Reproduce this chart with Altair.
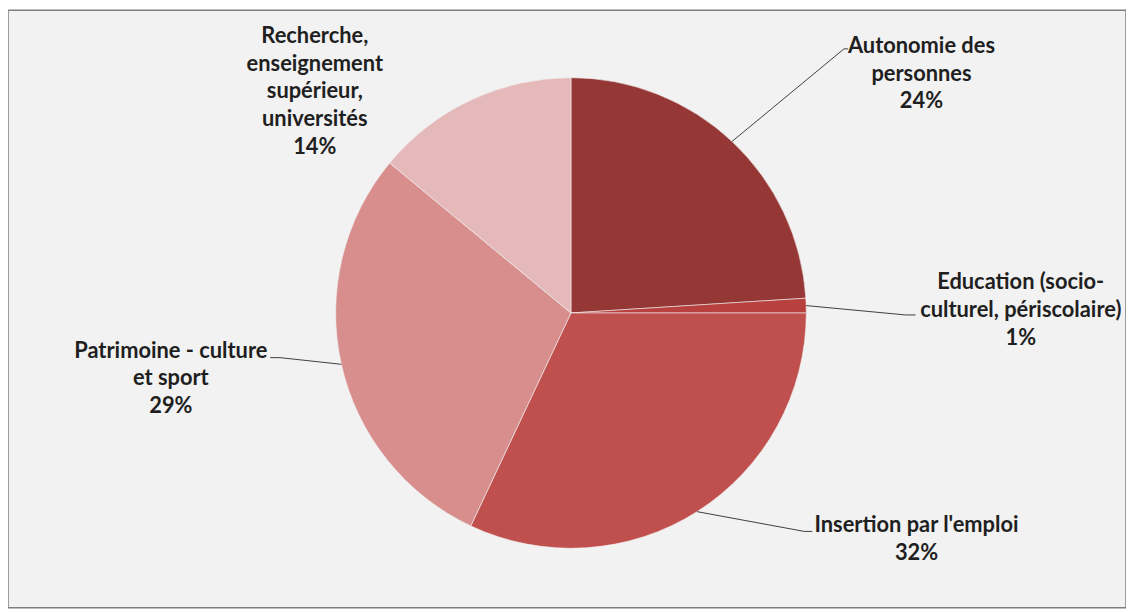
import math
import altair as alt
import pandas as pd

# ---- data ----
categories = [
    "Autonomie des personnes",
    "Education (socio-culturel, périscolaire)",
    "Insertion par l'emploi",
    "Patrimoine - culture et sport",
    "Recherche, enseignement supérieur, universités",
]
label_lines = [
    "Autonomie des\npersonnes",
    "Education (socio-\nculturel, périscolaire)",
    "Insertion par l'emploi",
    "Patrimoine - culture\net sport",
    "Recherche,\nenseignement\nsupérieur,\nuniversités",
]
values = [24, 1, 32, 29, 14]
colors = ["#953735", "#B8403E", "#C0504D", "#D78E8D", "#E5B9B9"]

# ---- layout (page pixel coordinates) ----
W, H = 1126, 602
X0, Y0 = 8, 8
CX, CY, R = 575, 313, 237
FONT = "Lato"
FS = 22
LH = 28
# label block centre x and first-line middle y
label_pos = [(928, 46), (1028, 284), (923, 529), (172, 353), (317, 36)]
# leader line elbow and end points (None = no leader)
leaders = [
    [(850, 47), (854, 47)],
    [(912, 315), (922, 315)],
    [(810, 533), (818, 533)],
    [(282, 358), (272, 358)],
    None,
]

df = pd.DataFrame({
    "cat": categories,
    "value": values,
    "order": list(range(len(categories))),
})

total = sum(values)
cum = 0
line_rows = []
text_rows = []
for i, v in enumerate(values):
    mid = (cum + v / 2) / total * 2 * math.pi
    cum += v
    sx = CX + R * math.sin(mid)
    sy = CY - R * math.cos(mid)
    if leaders[i] is not None:
        pts = [(sx, sy)] + leaders[i]
        for k, (px, py) in enumerate(pts):
            line_rows.append({"cat": categories[i], "k": k, "x": px, "y": py})
    lx, ly = label_pos[i]
    text_rows.append({
        "cat": categories[i],
        "txt": label_lines[i] + "\n" + f"{values[i]}%",
        "x": lx,
        "y": ly - 12,
    })

lines_df = pd.DataFrame(line_rows)
text_df = pd.DataFrame(text_rows)

xs = alt.Scale(domain=[X0, X0 + W], nice=False, zero=False)
ys = alt.Scale(domain=[Y0, Y0 + H], nice=False, zero=False, reverse=True)

pie = alt.Chart(df).mark_arc(outerRadius=R, stroke="#F2F2F2", strokeWidth=0.6).encode(
    theta=alt.Theta("value:Q", stack=True),
    order=alt.Order("order:Q"),
    color=alt.Color("cat:N", scale=alt.Scale(domain=categories, range=colors), legend=None),
    x=alt.value(CX - X0),
    y=alt.value(CY - Y0),
)

leader = alt.Chart(lines_df).mark_line(color="#404040", strokeWidth=1).encode(
    x=alt.X("x:Q", scale=xs, axis=None),
    y=alt.Y("y:Q", scale=ys, axis=None),
    detail="cat:N",
    order="k:Q",
)

labels = alt.Chart(text_df).mark_text(
    font=FONT, fontSize=FS, fontWeight="bold", color="#1F1F1F",
    align="center", baseline="top", lineBreak="\n", lineHeight=LH,
).encode(
    x=alt.X("x:Q", scale=xs, axis=None),
    y=alt.Y("y:Q", scale=ys, axis=None),
    text="txt:N",
)

chart = alt.layer(pie, leader, labels).properties(
    width=W, height=H, padding=0,
    autosize=alt.AutoSizeParams(type="none"),
).configure_view(
    fill="#F2F2F2", stroke="#7F7F7F", strokeWidth=1.5,
)

chart.save("out.html", embed_options={"renderer": "svg", "actions": False})
